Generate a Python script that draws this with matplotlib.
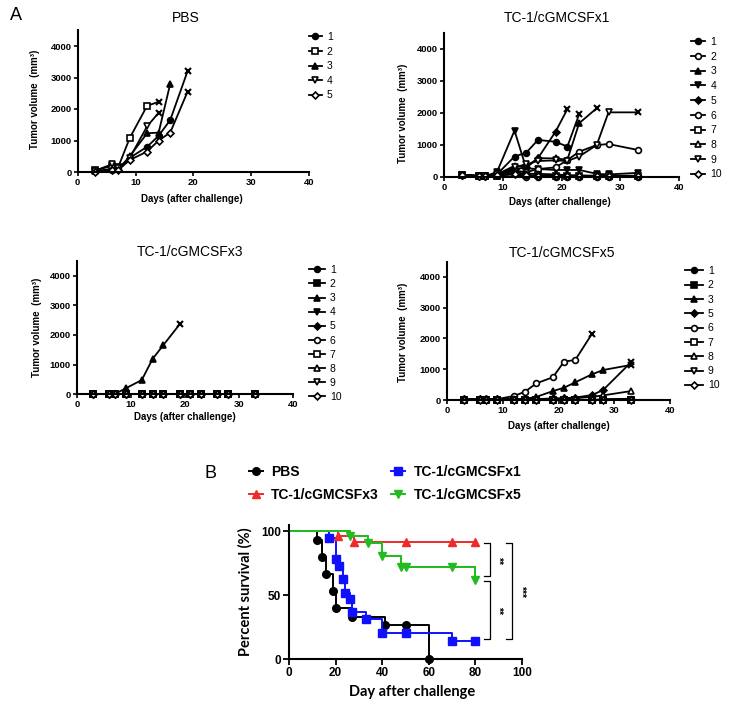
import matplotlib
matplotlib.use('Agg')
import matplotlib.pyplot as plt
from matplotlib.lines import Line2D

plt.rcParams['font.family'] = ['Liberation Sans', 'DejaVu Sans']

# ---------------- data: tumor volumes ----------------
days_pbs = [3, 6, 7, 9, 12, 14, 16, 19]
pbs_labels = ['1', '2', '3', '4', '5']
pbs_m1 = [20, 60, 80, 450, 800, 1150, 1650, 3200]
pbs_m2 = [50, 200, 150, 1080, 2100, 2230]
pbs_m3 = [30, 100, 80, 500, 1230, 1250, 2800]
pbs_m4 = [40, 250, 120, 450, 1450, 1880]
pbs_m5 = [10, 50, 60, 380, 650, 1000, 1250, 2550]
pbs_vol = [pbs_m1, pbs_m2, pbs_m3, pbs_m4, pbs_m5]
pbs_dead = [True, True, False, True, True]

days_all = [3, 6, 7, 9, 12, 14, 16, 19, 21, 23, 26, 28, 33]
labels10 = ['1', '2', '3', '4', '5', '6', '7', '8', '9', '10']

x1_m1 = [60, 30, 30, 80, 640, 760, 1160, 1100, 950, 1960]
x1_m2 = [60, 30, 30, 50, 100, 0, 0, 0, 0, 0, 0, 0, 0]
x1_m3 = [60, 30, 30, 80, 350, 300, 590, 580, 540, 1680, 2150]
x1_m4 = [60, 30, 30, 150, 1450, 270, 250, 220, 220, 220, 100, 80, 130]
x1_m5 = [60, 30, 30, 80, 240, 300, 590, 1420, 2120]
x1_m6 = [60, 30, 30, 60, 200, 150, 250, 300, 530, 790, 1000, 1030, 845]
x1_m7 = [60, 30, 30, 40, 100, 50, 50, 40, 30, 30, 20, 20, 20]
x1_m8 = [60, 30, 30, 40, 150, 100, 100, 80, 60, 50, 40, 40, 40]
x1_m9 = [60, 30, 30, 80, 300, 400, 500, 520, 500, 640, 1000, 2020, 2020]
x1_m10 = [60, 30, 30, 60, 80, 50, 30, 30, 30, 30, 20, 20, 20]
x1_vol = [x1_m1, x1_m2, x1_m3, x1_m4, x1_m5, x1_m6, x1_m7, x1_m8, x1_m9, x1_m10]
x1_dead = [True, False, True, False, True, False, False, False, True, False]

x3_zero = [0, 0, 0, 0, 0, 0, 0, 0, 0, 0, 0, 0, 0]
x3_m3 = [0, 0, 0, 190, 475, 1190, 1660, 2360]
x3_vol = [x3_zero, x3_zero, x3_m3, x3_zero, x3_zero,
          x3_zero, x3_zero, x3_zero, x3_zero, x3_zero]
x3_dead = [False, False, True, False, False, False, False, False, False, False]

x5_labels = ['1', '2', '3', '5', '6', '7', '8', '9', '10']
x5_m1 = [30, 20, 20, 20, 30, 20, 0, 0, 0, 0, 0, 30, 40]
x5_m2 = [0, 0, 0, 0, 0, 0, 0, 0, 0, 0, 0, 0, 0]
x5_m3 = [20, 20, 20, 20, 30, 40, 100, 290, 400, 575, 835, 975, 1140]
x5_m5 = [20, 20, 20, 20, 30, 30, 30, 50, 60, 80, 160, 325, 1225]
x5_m6 = [20, 20, 20, 30, 130, 270, 540, 740, 1250, 1300, 2150]
x5_m7 = [0, 0, 0, 0, 0, 0, 0, 0, 0, 0, 0, 0, 0]
x5_m8 = [10, 10, 10, 10, 20, 20, 30, 40, 50, 60, 100, 150, 290]
x5_m9 = [0, 0, 0, 0, 0, 0, 0, 0, 0, 0, 0, 0, 0]
x5_m10 = [0, 0, 0, 0, 0, 0, 0, 0, 0, 0, 0, 0, 0]
x5_vol = [x5_m1, x5_m2, x5_m3, x5_m5, x5_m6, x5_m7, x5_m8, x5_m9, x5_m10]
x5_dead = [False, False, True, True, True, False, False, False, False]

# ---------------- data: survival ----------------
surv_labels = ['PBS', 'TC-1/cGMCSFx1', 'TC-1/cGMCSFx3', 'TC-1/cGMCSFx5']
pbs_t = [12, 14, 16, 19, 20, 27, 41, 50, 60]
pbs_s = [93.3, 80, 66.7, 53.3, 40, 33.3, 26.7, 26.7, 0]
x1_t = [17, 20, 21.5, 23, 24, 26, 27, 33, 40, 50, 70, 80]
x1_s = [95, 78, 73, 63, 52, 47, 37, 31, 20.5, 20.5, 14.3, 14.3]
x3_t = [21, 28, 50, 70, 80]
x3_s = [96, 91.5, 91.5, 91.5, 91.5]
x5_t = [26, 34, 40, 48, 50, 70, 80]
x5_s = [96, 91, 81, 72, 72, 72, 62]

# ---------------- styles ----------------
mk10 = ['o', 's', '^', 'v', 'D', 'o', 's', '^', 'v', 'D']
fill10 = [True, True, True, True, True, False, False, False, False, False]
mk_pbs = ['o', 's', '^', 'v', 'D']
fill_pbs = [True, False, True, False, False]
mk_x1 = ['o', 'o', '^', 'v', 'D', 'o', 's', '^', 'v', 'D']
fill_x1 = [True, False, True, True, True, False, False, False, False, False]
mk_x5 = ['o', 's', '^', 'D', 'o', 's', '^', 'v', 'D']
fill_x5 = [True, True, True, True, False, False, False, False, False]

W, H = 736, 706
fig = plt.figure(figsize=(W / 100, H / 100), dpi=100)


def fx(px):
    return px / W


def fy(py):
    return 1 - py / H


def msize(m):
    return 3.5 if m == 'D' else 4.2


def tumor_panel(rect, title, title_xy, days, vols, dead, marks, fills, labels,
                ylab_xy, xlab_xy, leg_xy, leg_hl, leg_pitch):
    ax = fig.add_axes(rect)
    for v, d, m, f in zip(vols, dead, marks, fills):
        n = len(v)
        kw = dict(color='black', lw=1.3, marker=m, ms=msize(m), mew=1.2,
                  mfc='black' if f else 'white', mec='black', clip_on=False)
        if d:
            ax.plot(days[:n], v, markevery=list(range(n - 1)), **kw)
            ax.plot([days[n - 1]], [v[-1]], marker='x', ms=4.5, mew=1.5,
                    color='black', ls='none', clip_on=False)
        else:
            ax.plot(days[:n], v, **kw)
    ax.set_xlim(0, 40)
    ax.set_ylim(0, 4500)
    ax.set_xticks([0, 10, 20, 30, 40])
    ax.set_yticks([0, 1000, 2000, 3000, 4000])
    for s in ['top', 'right']:
        ax.spines[s].set_visible(False)
    for s in ['left', 'bottom']:
        ax.spines[s].set_linewidth(1.5)
    ax.tick_params(direction='out', length=3, width=1.2, labelsize=6.8, pad=1.5)
    for lab in ax.get_xticklabels() + ax.get_yticklabels():
        lab.set_fontweight('bold')
    fig.text(fx(title_xy[0]), fy(title_xy[1]), title, ha='center', va='center',
             fontsize=10)
    ax.text(ylab_xy[0], ylab_xy[1], 'Tumor volume  (mm³)', rotation=90,
            transform=ax.transAxes, ha='center', va='center',
            fontsize=7, fontweight='bold')
    ax.text(xlab_xy[0], xlab_xy[1], 'Days (after challenge)',
            transform=ax.transAxes, ha='center', va='center',
            fontsize=7, fontweight='bold')
    handles = []
    for m, f in zip(marks, fills):
        handles.append(Line2D([], [], color='black', lw=1.3, marker=m,
                              ms=msize(m), mew=1.2,
                              mfc='black' if f else 'white', mec='black'))
    fs = 7.5
    lsp = (leg_pitch - 11.6) / 10.4
    fig.legend(handles, labels, loc='upper left',
               bbox_to_anchor=(fx(leg_xy[0]), fy(leg_xy[1])),
               frameon=False, fontsize=fs, handlelength=leg_hl,
               handletextpad=0.5, labelspacing=lsp, borderpad=0,
               borderaxespad=0)
    return ax


# PBS
tumor_panel([fx(77.7), fy(172), fx(231.3), 141.75 / H], 'PBS', (186, 18),
            days_pbs, pbs_vol, pbs_dead, mk_pbs, fill_pbs, pbs_labels,
            (-0.185, 0.515), (0.494, -0.19), (309, 32), 1.2, 16.2)
# x1
tumor_panel([fx(444), fy(177), fx(235), 144 / H], 'TC-1/cGMCSFx1', (557, 18),
            days_all, x1_vol, x1_dead, mk_x1, fill_x1, labels10,
            (-0.174, 0.44), (0.494, -0.174), (691, 37), 1.35, 16.3)
# x3
tumor_panel([fx(77), fy(394), fx(216), 132.75 / H], 'TC-1/cGMCSFx3', (190, 252),
            days_all, x3_vol, x3_dead, mk10, fill10, labels10,
            (-0.185, 0.50), (0.5, -0.17), (309, 265), 1.5, 15.7)
# x5
tumor_panel([fx(447), fy(400), fx(223), 138.4 / H], 'TC-1/cGMCSFx5', (562, 253),
            days_all, x5_vol, x5_dead, mk_x5, fill_x5, x5_labels,
            (-0.197, 0.49), (0.5, -0.185), (685, 266), 1.7, 15.9)

fig.text(fx(10), fy(15), 'A', fontsize=13, ha='left', va='center')
fig.text(fx(204), fy(474), 'B', fontsize=13, ha='left', va='center')

# ---------------- survival panel ----------------
axs = fig.add_axes([fx(289), fy(659), fx(233), 134 / H])
groups = [(pbs_t, pbs_s, 'black', 'o'),
          (x1_t, x1_s, '#1010FF', 's'),
          (x3_t, x3_s, '#EE2A2A', '^'),
          (x5_t, x5_s, '#22BB22', 'v')]
handles = []
for t, s, c, m in groups:
    xs = [0] + t
    ys = [100] + s
    axs.step(xs, ys, where='post', color=c, lw=1.4, clip_on=False)
    axs.plot(t, s, ls='none', marker=m, color=c, ms=5.5, clip_on=False)
    handles.append(Line2D([], [], color=c, lw=1.4, marker=m, ms=5.5))
# re-draw green on top for the shared 100% segment
axs.step([0] + x5_t, [100] + x5_s, where='post', color='#22BB22', lw=1.4,
         clip_on=False)

axs.set_xlim(0, 100)
axs.set_ylim(0, 105)
axs.set_xticks([0, 20, 40, 60, 80, 100])
axs.set_yticks([0, 50, 100])
for sp in ['top', 'right']:
    axs.spines[sp].set_visible(False)
for sp in ['left', 'bottom']:
    axs.spines[sp].set_linewidth(1.5)
axs.tick_params(direction='out', length=4, width=1.3, labelsize=8.5, pad=2)
for lab in axs.get_xticklabels() + axs.get_yticklabels():
    lab.set_fontweight('bold')
axs.text(0.527, -0.246, 'Day after challenge', transform=axs.transAxes,
         ha='center', va='center', fontsize=10.5, family=['Lato', 'DejaVu Sans'],
         fontweight='bold')
axs.text(-0.189, 0.5, 'Percent survival (%)', transform=axs.transAxes,
         rotation=90, ha='center', va='center', fontsize=10.5,
         family=['Lato', 'DejaVu Sans'], fontweight='bold')


# significance brackets
def bracket(x, y0, y1, txt, tx):
    axs.plot([x - 2.4, x, x, x - 2.4], [y0, y0, y1, y1], color='black', lw=0.9,
             clip_on=False)
    axs.text(tx, (y0 + y1) / 2, txt, rotation=270, ha='center', va='center',
             fontsize=7.5, fontweight='bold', clip_on=False)


bracket(86.3, 90.6, 64.8, '**', 89.9)
bracket(86.3, 61.0, 15.6, '**', 89.9)
bracket(95.7, 90.6, 15.6, '***', 99.5)

order = [0, 2, 1, 3]
fig.legend([handles[i] for i in order], [surv_labels[i] for i in order],
           loc='upper left', bbox_to_anchor=(fx(249), fy(465)), ncol=2,
           frameon=False, prop={'size': 10, 'weight': 'bold'},
           handlelength=1.0, handletextpad=0.6, labelspacing=0.66,
           columnspacing=0.9, borderpad=0, borderaxespad=0)

fig.savefig('out.png', dpi=100)
